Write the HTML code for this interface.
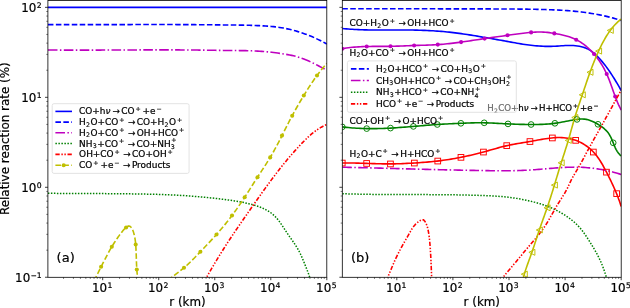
<!DOCTYPE html>
<html><head><meta charset="utf-8"><title>Relative reaction rate</title>
<style>html,body{margin:0;padding:0;background:#fff;width:630px;height:308px;overflow:hidden}</style>
</head><body>
<svg width="630" height="308" viewBox="0 0 630 308" style="display:block;position:absolute;left:0;top:0" font-family="'DejaVu Sans','Liberation Sans',sans-serif">
<rect width="630" height="308" fill="#fff"/>
<defs><clipPath id="cl"><rect x="47.9" y="0.4" width="278.90000000000003" height="276.90000000000003"/></clipPath><clipPath id="cr"><rect x="342.3" y="0.4" width="278.90000000000003" height="276.90000000000003"/></clipPath></defs>
<g clip-path="url(#cl)">
<path d="M47.9,7.35 L326.8,7.35" stroke="#0000ff" stroke-width="1.6" fill="none"/>
<path d="M47.90,24.60 L49.91,24.61 L51.93,24.62 L53.94,24.63 L55.96,24.63 L57.97,24.64 L59.99,24.64 L62.00,24.65 L64.02,24.65 L66.03,24.66 L68.05,24.66 L70.06,24.66 L72.08,24.66 L74.09,24.66 L76.10,24.66 L78.12,24.66 L80.13,24.66 L82.15,24.66 L84.16,24.66 L86.18,24.66 L88.19,24.66 L90.21,24.66 L92.22,24.65 L94.24,24.65 L96.25,24.65 L98.27,24.65 L100.28,24.64 L102.30,24.64 L104.31,24.63 L106.33,24.63 L108.34,24.63 L110.35,24.62 L112.37,24.62 L114.38,24.61 L116.40,24.61 L118.41,24.60 L120.43,24.60 L122.44,24.59 L124.46,24.59 L126.47,24.59 L128.49,24.58 L130.50,24.58 L132.52,24.57 L134.53,24.57 L136.55,24.57 L138.56,24.56 L140.58,24.56 L142.59,24.56 L144.60,24.56 L146.62,24.55 L148.63,24.55 L150.65,24.55 L152.66,24.55 L154.68,24.55 L156.69,24.55 L158.71,24.55 L160.72,24.55 L162.74,24.55 L164.75,24.55 L166.77,24.56 L168.78,24.56 L170.80,24.56 L172.81,24.57 L174.82,24.57 L176.84,24.58 L178.85,24.58 L180.87,24.59 L182.88,24.60 L184.90,24.61 L186.91,24.62 L188.93,24.63 L190.94,24.64 L192.96,24.65 L194.97,24.66 L196.99,24.68 L199.00,24.69 L201.01,24.71 L203.03,24.72 L205.04,24.74 L207.06,24.76 L209.07,24.78 L211.09,24.80 L213.10,24.82 L215.12,24.84 L217.13,24.86 L219.15,24.88 L221.16,24.90 L223.17,24.93 L225.19,24.95 L227.20,24.97 L229.22,24.99 L231.23,25.01 L233.25,25.03 L235.26,25.06 L237.28,25.08 L239.29,25.11 L241.31,25.14 L243.32,25.17 L245.33,25.21 L247.35,25.25 L249.36,25.30 L251.38,25.36 L253.39,25.42 L255.40,25.50 L257.42,25.58 L259.43,25.67 L261.44,25.77 L263.46,25.88 L265.47,26.00 L267.48,26.14 L269.49,26.30 L271.50,26.47 L273.50,26.67 L275.51,26.89 L277.51,27.14 L279.50,27.42 L281.49,27.73 L283.48,28.07 L285.46,28.45 L287.43,28.86 L289.40,29.30 L291.36,29.78 L293.31,30.28 L295.26,30.82 L297.19,31.38 L299.12,31.97 L301.04,32.59 L302.95,33.23 L304.85,33.90 L306.74,34.60 L308.62,35.33 L310.49,36.08 L312.35,36.86 L314.20,37.67 L316.04,38.50 L317.86,39.35 L319.67,40.23 L321.48,41.14 L323.26,42.07 L325.04,43.02 L326.80,44.00" fill="none" stroke="#0000ff" stroke-width="1.6" stroke-dasharray="5.55,2.40" stroke-linejoin="round" />
<path d="M47.90,50.00 L49.92,50.02 L51.93,50.03 L53.95,50.05 L55.96,50.06 L57.98,50.07 L59.99,50.08 L62.01,50.09 L64.03,50.10 L66.04,50.11 L68.06,50.11 L70.08,50.12 L72.09,50.12 L74.11,50.12 L76.12,50.12 L78.14,50.12 L80.16,50.12 L82.17,50.12 L84.19,50.12 L86.21,50.12 L88.22,50.11 L90.24,50.11 L92.26,50.10 L94.27,50.10 L96.29,50.09 L98.31,50.09 L100.32,50.08 L102.34,50.07 L104.36,50.07 L106.37,50.06 L108.39,50.05 L110.41,50.04 L112.42,50.03 L114.44,50.02 L116.46,50.02 L118.47,50.01 L120.49,50.00 L122.51,49.99 L124.52,49.98 L126.54,49.97 L128.56,49.96 L130.57,49.95 L132.59,49.95 L134.61,49.94 L136.62,49.93 L138.64,49.92 L140.66,49.92 L142.67,49.91 L144.69,49.90 L146.71,49.90 L148.72,49.89 L150.74,49.89 L152.76,49.89 L154.77,49.88 L156.79,49.88 L158.81,49.88 L160.82,49.88 L162.84,49.88 L164.86,49.88 L166.87,49.89 L168.89,49.89 L170.91,49.89 L172.92,49.90 L174.94,49.91 L176.95,49.91 L178.97,49.92 L180.99,49.93 L183.00,49.94 L185.02,49.96 L187.03,49.97 L189.05,49.99 L191.07,50.00 L193.08,50.02 L195.10,50.04 L197.11,50.07 L199.13,50.09 L201.14,50.11 L203.16,50.14 L205.18,50.17 L207.19,50.20 L209.21,50.23 L211.22,50.26 L213.24,50.29 L215.25,50.32 L217.27,50.35 L219.29,50.38 L221.30,50.40 L223.32,50.43 L225.34,50.45 L227.35,50.47 L229.37,50.49 L231.39,50.51 L233.41,50.53 L235.43,50.54 L237.45,50.56 L239.46,50.58 L241.48,50.60 L243.50,50.63 L245.52,50.66 L247.53,50.70 L249.55,50.75 L251.57,50.82 L253.58,50.89 L255.60,50.98 L257.61,51.08 L259.62,51.20 L261.63,51.33 L263.64,51.49 L265.64,51.66 L267.65,51.85 L269.65,52.07 L271.65,52.30 L273.66,52.54 L275.66,52.80 L277.66,53.07 L279.66,53.35 L281.66,53.64 L283.66,53.95 L285.65,54.27 L287.64,54.61 L289.63,54.98 L291.61,55.39 L293.57,55.83 L295.52,56.32 L297.46,56.86 L299.39,57.45 L301.29,58.09 L303.19,58.78 L305.07,59.52 L306.93,60.29 L308.78,61.10 L310.63,61.94 L312.46,62.80 L314.28,63.69 L316.09,64.60 L317.89,65.52 L319.68,66.45 L321.47,67.39 L323.25,68.33 L325.03,69.27 L326.80,70.20" fill="none" stroke="#bf00bf" stroke-width="1.6" stroke-dasharray="9.60,2.40,1.50,2.40" stroke-linejoin="round" />
<path d="M47.90,193.30 L49.91,193.32 L51.93,193.34 L53.94,193.36 L55.95,193.37 L57.97,193.39 L59.98,193.40 L61.99,193.42 L64.01,193.43 L66.02,193.44 L68.04,193.45 L70.05,193.47 L72.06,193.48 L74.08,193.49 L76.09,193.50 L78.10,193.50 L80.12,193.51 L82.13,193.52 L84.15,193.53 L86.16,193.54 L88.17,193.55 L90.19,193.55 L92.20,193.56 L94.22,193.57 L96.23,193.58 L98.25,193.59 L100.26,193.60 L102.27,193.61 L104.29,193.62 L106.30,193.63 L108.32,193.65 L110.33,193.66 L112.34,193.68 L114.36,193.69 L116.37,193.71 L118.39,193.72 L120.40,193.74 L122.41,193.76 L124.43,193.78 L126.44,193.81 L128.45,193.83 L130.47,193.86 L132.48,193.88 L134.49,193.91 L136.51,193.94 L138.52,193.97 L140.53,194.01 L142.55,194.05 L144.56,194.08 L146.57,194.13 L148.59,194.17 L150.60,194.22 L152.61,194.27 L154.62,194.32 L156.64,194.37 L158.65,194.43 L160.66,194.50 L162.67,194.57 L164.69,194.64 L166.70,194.72 L168.71,194.80 L170.72,194.88 L172.74,194.97 L174.75,195.07 L176.76,195.17 L178.77,195.28 L180.78,195.40 L182.79,195.52 L184.81,195.64 L186.82,195.78 L188.83,195.92 L190.84,196.06 L192.85,196.22 L194.86,196.38 L196.87,196.54 L198.88,196.72 L200.89,196.90 L202.90,197.09 L204.91,197.28 L206.91,197.48 L208.92,197.69 L210.92,197.90 L212.92,198.12 L214.92,198.34 L216.92,198.57 L218.92,198.80 L220.91,199.04 L222.90,199.29 L224.89,199.54 L226.87,199.80 L228.86,200.06 L230.84,200.34 L232.82,200.63 L234.80,200.94 L236.79,201.26 L238.77,201.60 L240.75,201.96 L242.73,202.35 L244.71,202.76 L246.70,203.20 L248.69,203.67 L250.68,204.17 L252.67,204.71 L254.65,205.29 L256.62,205.90 L258.58,206.57 L260.50,207.29 L262.39,208.07 L264.25,208.91 L266.05,209.82 L267.81,210.80 L269.50,211.86 L271.13,213.00 L272.68,214.23 L274.15,215.54 L275.55,216.94 L276.89,218.41 L278.16,219.95 L279.39,221.55 L280.58,223.18 L281.74,224.86 L282.87,226.55 L284.00,228.27 L285.11,229.98 L286.23,231.70 L287.37,233.40 L288.52,235.08 L289.68,236.75 L290.85,238.40 L292.01,240.05 L293.16,241.71 L294.29,243.37 L295.40,245.04 L296.47,246.73 L297.51,248.44 L298.50,250.17 L299.43,251.94 L300.32,253.74 L301.18,255.56 L301.99,257.41 L302.78,259.26 L303.55,261.13 L304.31,263.01 L305.06,264.89 L305.80,266.77 L306.55,268.64 L307.28,270.52 L308.00,272.40 L308.69,274.29 L309.34,276.19 L309.95,278.11 L310.51,280.04 L311.00,282.00" fill="none" stroke="#008000" stroke-width="1.5" stroke-dasharray="1.5,1.5" stroke-linejoin="round" />
<path d="M204.00,282.00 L204.98,280.22 L205.97,278.44 L206.96,276.66 L207.96,274.89 L208.96,273.12 L209.98,271.35 L211.00,269.59 L212.02,267.83 L213.05,266.08 L214.09,264.33 L215.14,262.58 L216.19,260.84 L217.24,259.10 L218.30,257.36 L219.37,255.63 L220.44,253.90 L221.52,252.17 L222.61,250.45 L223.70,248.73 L224.79,247.01 L225.89,245.30 L227.00,243.59 L228.11,241.88 L229.22,240.18 L230.34,238.48 L231.47,236.78 L232.60,235.09 L233.74,233.40 L234.87,231.72 L236.02,230.03 L237.17,228.35 L238.32,226.67 L239.47,225.00 L240.63,223.32 L241.79,221.65 L242.95,219.98 L244.11,218.31 L245.27,216.64 L246.44,214.97 L247.60,213.30 L248.76,211.63 L249.93,209.96 L251.09,208.29 L252.26,206.62 L253.42,204.96 L254.59,203.29 L255.76,201.62 L256.93,199.96 L258.10,198.29 L259.27,196.63 L260.45,194.97 L261.63,193.31 L262.81,191.66 L264.00,190.00 L265.18,188.35 L266.38,186.70 L267.57,185.05 L268.77,183.41 L269.98,181.77 L271.19,180.13 L272.41,178.50 L273.63,176.87 L274.86,175.25 L276.09,173.63 L277.33,172.02 L278.58,170.41 L279.83,168.81 L281.09,167.21 L282.36,165.62 L283.64,164.04 L284.92,162.47 L286.22,160.90 L287.52,159.34 L288.83,157.78 L290.15,156.24 L291.48,154.70 L292.82,153.17 L294.17,151.64 L295.53,150.12 L296.90,148.62 L298.28,147.11 L299.67,145.62 L301.07,144.14 L302.49,142.66 L303.91,141.19 L305.36,139.75 L306.82,138.32 L308.31,136.92 L309.82,135.55 L311.36,134.21 L312.92,132.91 L314.52,131.66 L316.15,130.46 L317.82,129.31 L319.53,128.21 L321.28,127.18 L323.07,126.21 L324.91,125.32 L326.80,124.50" fill="none" stroke="#ff0000" stroke-width="1.6" stroke-dasharray="4.3,1.7,1.4,1.6,1.4,1.7" stroke-linejoin="round" />
<path d="M94.00,281.00 L94.79,279.46 L95.58,277.92 L96.36,276.38 L97.13,274.83 L97.89,273.27 L98.65,271.72 L99.42,270.16 L100.18,268.61 L100.96,267.07 L101.75,265.53 L102.54,263.98 L103.33,262.44 L104.12,260.90 L104.91,259.35 L105.71,257.82 L106.51,256.28 L107.32,254.75 L108.14,253.23 L108.97,251.71 L109.82,250.20 L110.68,248.70 L111.55,247.21 L112.44,245.73 L113.35,244.26 L114.27,242.79 L115.21,241.33 L116.16,239.88 L117.14,238.44 L118.13,237.02 L119.15,235.63 L120.19,234.25 L121.24,232.86 L122.31,231.45 L123.42,230.09 L124.60,228.82 L125.86,227.69 L127.30,226.59 L128.83,225.90 L130.34,226.55 L131.67,227.96 L132.40,229.32 L133.01,230.77 L133.55,232.35 L134.03,234.02 L134.44,235.77 L134.81,237.57 L135.11,239.38 L135.36,241.20 L135.56,242.98 L135.72,244.71 L135.84,246.42 L135.94,248.14 L136.03,249.86 L136.11,251.59 L136.17,253.32 L136.23,255.05 L136.29,256.78 L136.34,258.52 L136.40,260.25 L136.45,261.99 L136.52,263.73 L136.59,265.46 L136.67,267.19 L136.76,268.92 L136.88,270.65 L137.04,272.37 L137.22,274.09 L137.38,275.82 L137.52,277.54 L137.62,279.27 L137.70,281.00" fill="none" stroke="#bfbf00" stroke-width="1.6" stroke-dasharray="5.55,2.40" stroke-linejoin="round" />
<path d="M168.00,280.50 L169.55,279.20 L171.12,277.92 L172.70,276.67 L174.30,275.43 L175.91,274.20 L177.52,272.96 L179.12,271.73 L180.71,270.48 L182.29,269.22 L183.84,267.93 L185.38,266.61 L186.88,265.27 L188.37,263.90 L189.83,262.51 L191.28,261.10 L192.72,259.67 L194.14,258.23 L195.55,256.77 L196.95,255.31 L198.35,253.85 L199.75,252.38 L201.15,250.91 L202.55,249.45 L203.95,247.99 L205.34,246.52 L206.74,245.06 L208.13,243.59 L209.51,242.12 L210.90,240.64 L212.27,239.16 L213.64,237.67 L215.00,236.17 L216.35,234.67 L217.69,233.16 L219.02,231.63 L220.34,230.10 L221.65,228.56 L222.94,227.00 L224.23,225.44 L225.51,223.87 L226.77,222.29 L228.02,220.70 L229.27,219.11 L230.50,217.50 L231.71,215.88 L232.92,214.26 L234.11,212.63 L235.30,210.99 L236.47,209.34 L237.63,207.68 L238.79,206.02 L239.93,204.35 L241.07,202.68 L242.19,201.00 L243.31,199.31 L244.42,197.62 L245.53,195.93 L246.62,194.23 L247.72,192.53 L248.81,190.83 L249.89,189.12 L250.98,187.41 L252.06,185.70 L253.14,184.00 L254.23,182.29 L255.32,180.59 L256.41,178.88 L257.51,177.19 L258.61,175.49 L259.72,173.80 L260.83,172.10 L261.94,170.41 L263.05,168.72 L264.15,167.03 L265.25,165.33 L266.34,163.62 L267.43,161.92 L268.49,160.20 L269.55,158.48 L270.59,156.74 L271.62,155.00 L272.62,153.25 L273.62,151.49 L274.60,149.72 L275.57,147.94 L276.53,146.16 L277.48,144.38 L278.42,142.58 L279.35,140.79 L280.27,138.99 L281.19,137.19 L282.11,135.38 L283.02,133.58 L283.94,131.77 L284.85,129.96 L285.76,128.16 L286.67,126.35 L287.59,124.55 L288.51,122.75 L289.44,120.95 L290.37,119.16 L291.31,117.37 L292.26,115.58 L293.22,113.81 L294.19,112.03 L295.17,110.26 L296.16,108.50 L297.16,106.74 L298.17,104.99 L299.18,103.24 L300.21,101.49 L301.24,99.75 L302.28,98.02 L303.32,96.28 L304.38,94.55 L305.44,92.83 L306.51,91.11 L307.58,89.40 L308.67,87.69 L309.77,85.99 L310.88,84.30 L312.00,82.62 L313.14,80.94 L314.29,79.28 L315.46,77.63 L316.64,75.99 L317.84,74.36 L319.06,72.75 L320.30,71.15 L321.55,69.57 L322.83,68.00 L324.13,66.45 L325.45,64.92 L326.80,63.40" fill="none" stroke="#bfbf00" stroke-width="1.6" stroke-dasharray="5.55,2.40" stroke-linejoin="round" />
<circle cx="101.1" cy="266.8" r="2.05" fill="#bfbf00"/><circle cx="111.8" cy="246.8" r="2.05" fill="#bfbf00"/><circle cx="126.1" cy="227.5" r="2.05" fill="#bfbf00"/><circle cx="135.7" cy="244.5" r="2.05" fill="#bfbf00"/><circle cx="136.8" cy="269.5" r="2.05" fill="#bfbf00"/><circle cx="184.0" cy="267.8" r="2.05" fill="#bfbf00"/><circle cx="200.4" cy="251.7" r="2.05" fill="#bfbf00"/><circle cx="216.5" cy="234.5" r="2.05" fill="#bfbf00"/><circle cx="232.0" cy="215.5" r="2.05" fill="#bfbf00"/><circle cx="244.7" cy="197.2" r="2.05" fill="#bfbf00"/><circle cx="257.5" cy="177.2" r="2.05" fill="#bfbf00"/><circle cx="270.2" cy="157.4" r="2.05" fill="#bfbf00"/><circle cx="282.0" cy="135.6" r="2.05" fill="#bfbf00"/><circle cx="292.2" cy="115.7" r="2.05" fill="#bfbf00"/><circle cx="303.8" cy="95.5" r="2.05" fill="#bfbf00"/><circle cx="317.0" cy="75.5" r="2.05" fill="#bfbf00"/>
</g>
<g clip-path="url(#cr)">
<path d="M342.30,8.80 L344.33,8.80 L346.36,8.79 L348.38,8.79 L350.41,8.79 L352.44,8.79 L354.47,8.78 L356.50,8.78 L358.53,8.78 L360.56,8.78 L362.58,8.78 L364.61,8.78 L366.64,8.78 L368.67,8.78 L370.70,8.77 L372.73,8.77 L374.75,8.77 L376.78,8.77 L378.81,8.77 L380.84,8.77 L382.87,8.77 L384.90,8.77 L386.92,8.77 L388.95,8.77 L390.98,8.78 L393.01,8.78 L395.04,8.78 L397.07,8.78 L399.09,8.78 L401.12,8.78 L403.15,8.78 L405.18,8.78 L407.21,8.79 L409.24,8.79 L411.27,8.79 L413.29,8.79 L415.32,8.79 L417.35,8.80 L419.38,8.80 L421.41,8.80 L423.44,8.80 L425.46,8.81 L427.49,8.81 L429.52,8.81 L431.55,8.82 L433.58,8.82 L435.61,8.82 L437.63,8.82 L439.66,8.83 L441.69,8.83 L443.72,8.83 L445.75,8.84 L447.78,8.84 L449.80,8.84 L451.83,8.85 L453.86,8.85 L455.89,8.85 L457.92,8.86 L459.95,8.86 L461.98,8.87 L464.00,8.87 L466.03,8.87 L468.06,8.88 L470.09,8.88 L472.12,8.88 L474.15,8.89 L476.17,8.89 L478.20,8.90 L480.23,8.90 L482.26,8.90 L484.29,8.91 L486.32,8.91 L488.34,8.92 L490.37,8.92 L492.40,8.93 L494.43,8.93 L496.46,8.94 L498.49,8.95 L500.51,8.96 L502.54,8.96 L504.57,8.97 L506.60,8.99 L508.63,9.00 L510.66,9.01 L512.68,9.03 L514.71,9.04 L516.74,9.06 L518.77,9.08 L520.80,9.10 L522.83,9.12 L524.85,9.15 L526.88,9.17 L528.91,9.20 L530.94,9.23 L532.97,9.27 L535.00,9.30 L537.02,9.34 L539.05,9.39 L541.08,9.44 L543.11,9.49 L545.14,9.55 L547.16,9.61 L549.19,9.68 L551.22,9.76 L553.25,9.84 L555.27,9.93 L557.30,10.03 L559.32,10.14 L561.35,10.25 L563.37,10.38 L565.40,10.51 L567.42,10.66 L569.45,10.81 L571.47,10.98 L573.49,11.16 L575.51,11.35 L577.53,11.55 L579.55,11.77 L581.56,12.01 L583.57,12.25 L585.59,12.52 L587.59,12.80 L589.60,13.10 L591.60,13.42 L593.61,13.75 L595.60,14.11 L597.60,14.48 L599.59,14.87 L601.58,15.28 L603.56,15.71 L605.54,16.15 L607.51,16.62 L609.48,17.10 L611.45,17.60 L613.41,18.13 L615.37,18.67 L617.32,19.22 L619.26,19.80 L621.20,20.40" fill="none" stroke="#0000ff" stroke-width="1.6" stroke-dasharray="5.55,2.40" stroke-linejoin="round" />
<path d="M342.30,28.50 L344.31,28.70 L346.33,28.88 L348.34,29.04 L350.35,29.19 L352.37,29.32 L354.38,29.44 L356.40,29.54 L358.42,29.64 L360.43,29.72 L362.45,29.79 L364.47,29.84 L366.48,29.89 L368.50,29.93 L370.52,29.97 L372.54,29.99 L374.56,30.01 L376.57,30.02 L378.59,30.03 L380.61,30.03 L382.63,30.03 L384.65,30.02 L386.67,30.02 L388.69,30.01 L390.71,30.00 L392.73,29.99 L394.75,29.98 L396.77,29.98 L398.79,29.97 L400.81,29.97 L402.83,29.97 L404.85,29.98 L406.88,29.99 L408.90,30.01 L410.92,30.03 L412.94,30.06 L414.96,30.10 L416.98,30.15 L419.00,30.20 L421.02,30.26 L423.03,30.33 L425.05,30.41 L427.07,30.50 L429.09,30.60 L431.10,30.70 L433.12,30.82 L435.14,30.95 L437.15,31.09 L439.16,31.24 L441.18,31.40 L443.19,31.57 L445.20,31.76 L447.21,31.95 L449.22,32.16 L451.23,32.38 L453.23,32.61 L455.24,32.86 L457.24,33.11 L459.24,33.37 L461.24,33.65 L463.24,33.93 L465.24,34.22 L467.24,34.53 L469.24,34.84 L471.23,35.16 L473.22,35.48 L475.21,35.82 L477.20,36.15 L479.19,36.49 L481.18,36.84 L483.17,37.18 L485.16,37.53 L487.15,37.87 L489.14,38.22 L491.13,38.56 L493.12,38.91 L495.11,39.25 L497.10,39.60 L499.09,39.95 L501.08,40.30 L503.07,40.66 L505.05,41.02 L507.04,41.38 L509.02,41.75 L511.01,42.11 L513.00,42.47 L514.98,42.83 L516.97,43.18 L518.96,43.52 L520.95,43.85 L522.95,44.17 L524.94,44.48 L526.95,44.76 L528.95,45.03 L530.96,45.28 L532.97,45.51 L534.98,45.71 L537.00,45.89 L539.02,46.05 L541.04,46.17 L543.06,46.27 L545.08,46.34 L547.10,46.38 L549.12,46.38 L551.13,46.36 L553.15,46.29 L555.16,46.20 L557.17,46.08 L559.18,45.94 L561.19,45.81 L563.20,45.68 L565.22,45.57 L567.24,45.49 L569.26,45.45 L571.29,45.46 L573.33,45.54 L575.38,45.69 L577.41,45.92 L579.43,46.24 L581.42,46.67 L583.38,47.21 L585.28,47.87 L587.12,48.66 L588.90,49.60 L590.61,50.66 L592.25,51.83 L593.84,53.10 L595.37,54.45 L596.85,55.86 L598.29,57.32 L599.68,58.82 L601.04,60.34 L602.36,61.88 L603.65,63.44 L604.90,65.02 L606.13,66.62 L607.32,68.24 L608.49,69.87 L609.64,71.53 L610.76,73.19 L611.86,74.87 L612.95,76.57 L614.02,78.27 L615.07,79.99 L616.11,81.72 L617.14,83.46 L618.17,85.21 L619.18,86.96 L620.19,88.73 L621.20,90.50" fill="none" stroke="#0000ff" stroke-width="1.6" stroke-linejoin="round" />
<path d="M342.30,48.70 L344.30,48.35 L346.31,48.04 L348.32,47.76 L350.33,47.52 L352.34,47.31 L354.35,47.13 L356.36,46.97 L358.37,46.84 L360.39,46.73 L362.41,46.63 L364.42,46.56 L366.44,46.51 L368.46,46.46 L370.48,46.43 L372.50,46.41 L374.52,46.40 L376.54,46.39 L378.56,46.38 L380.58,46.38 L382.60,46.37 L384.62,46.36 L386.64,46.35 L388.66,46.33 L390.68,46.30 L392.70,46.25 L394.71,46.20 L396.73,46.14 L398.75,46.08 L400.77,46.00 L402.79,45.93 L404.81,45.85 L406.83,45.77 L408.84,45.69 L410.86,45.61 L412.88,45.54 L414.90,45.47 L416.92,45.41 L418.94,45.35 L420.96,45.30 L422.98,45.24 L425.00,45.18 L427.02,45.11 L429.04,45.04 L431.05,44.96 L433.07,44.87 L435.09,44.76 L437.10,44.65 L439.12,44.51 L441.13,44.36 L443.14,44.19 L445.16,44.00 L447.17,43.80 L449.17,43.59 L451.18,43.36 L453.19,43.13 L455.20,42.88 L457.20,42.62 L459.20,42.36 L461.21,42.09 L463.21,41.81 L465.21,41.52 L467.20,41.23 L469.20,40.93 L471.20,40.63 L473.20,40.33 L475.19,40.03 L477.19,39.72 L479.19,39.42 L481.18,39.11 L483.18,38.81 L485.18,38.51 L487.18,38.22 L489.18,37.93 L491.17,37.63 L493.17,37.35 L495.17,37.06 L497.17,36.77 L499.17,36.49 L501.17,36.20 L503.17,35.92 L505.17,35.63 L507.17,35.35 L509.17,35.06 L511.17,34.77 L513.17,34.49 L515.17,34.21 L517.17,33.94 L519.17,33.67 L521.17,33.42 L523.18,33.18 L525.19,32.95 L527.20,32.75 L529.21,32.56 L531.23,32.39 L533.25,32.25 L535.27,32.14 L537.29,32.06 L539.31,32.02 L541.33,32.04 L543.35,32.10 L545.36,32.23 L547.37,32.41 L549.37,32.65 L551.37,32.93 L553.37,33.25 L555.38,33.58 L557.38,33.94 L559.38,34.33 L561.38,34.75 L563.36,35.20 L565.33,35.70 L567.28,36.25 L569.22,36.86 L571.12,37.52 L573.00,38.25 L574.85,39.05 L576.66,39.93 L578.43,40.89 L580.17,41.92 L581.86,43.03 L583.52,44.20 L585.13,45.43 L586.70,46.73 L588.24,48.07 L589.73,49.47 L591.17,50.92 L592.58,52.40 L593.94,53.93 L595.25,55.48 L596.52,57.07 L597.75,58.69 L598.93,60.34 L600.08,62.01 L601.17,63.72 L602.23,65.44 L603.24,67.20 L604.22,68.97 L605.15,70.76 L606.04,72.58 L606.88,74.41 L607.69,76.26 L608.47,78.12 L609.22,80.00 L609.94,81.88 L610.64,83.78 L611.33,85.68 L612.00,87.58 L612.68,89.49 L613.35,91.40 L614.03,93.30 L614.72,95.20 L615.42,97.09 L616.15,98.98 L616.90,100.85 L617.68,102.72 L618.49,104.57 L619.35,106.40 L620.25,108.21 L621.20,110.00" fill="none" stroke="#bf00bf" stroke-width="1.6" stroke-linejoin="round" />
<circle cx="342.3" cy="48.7" r="2.05" fill="#bf00bf"/><circle cx="366.7" cy="46.5" r="2.05" fill="#bf00bf"/><circle cx="390.5" cy="46.3" r="2.05" fill="#bf00bf"/><circle cx="414.1" cy="45.5" r="2.05" fill="#bf00bf"/><circle cx="437.8" cy="44.6" r="2.05" fill="#bf00bf"/><circle cx="461.1" cy="42.1" r="2.05" fill="#bf00bf"/><circle cx="484.6" cy="38.6" r="2.05" fill="#bf00bf"/><circle cx="507.5" cy="35.3" r="2.05" fill="#bf00bf"/><circle cx="531.1" cy="32.4" r="2.05" fill="#bf00bf"/><circle cx="554.3" cy="33.4" r="2.05" fill="#bf00bf"/><circle cx="576.2" cy="39.7" r="2.05" fill="#bf00bf"/><circle cx="594.0" cy="54.0" r="2.05" fill="#bf00bf"/><circle cx="606.7" cy="74.0" r="2.05" fill="#bf00bf"/><circle cx="615.2" cy="96.5" r="2.05" fill="#bf00bf"/>
<path d="M342.30,126.90 L344.31,127.15 L346.32,127.37 L348.33,127.57 L350.35,127.76 L352.36,127.93 L354.38,128.07 L356.40,128.20 L358.42,128.32 L360.44,128.41 L362.45,128.49 L364.47,128.55 L366.50,128.60 L368.52,128.63 L370.54,128.64 L372.56,128.64 L374.58,128.63 L376.60,128.61 L378.62,128.57 L380.64,128.52 L382.67,128.45 L384.69,128.38 L386.71,128.29 L388.73,128.19 L390.74,128.09 L392.76,127.97 L394.78,127.84 L396.80,127.71 L398.81,127.57 L400.83,127.42 L402.84,127.27 L404.86,127.11 L406.87,126.95 L408.89,126.78 L410.90,126.61 L412.92,126.44 L414.93,126.27 L416.94,126.10 L418.96,125.93 L420.97,125.76 L422.99,125.59 L425.00,125.42 L427.02,125.26 L429.03,125.10 L431.05,124.94 L433.06,124.79 L435.08,124.65 L437.09,124.51 L439.11,124.38 L441.13,124.26 L443.15,124.14 L445.16,124.03 L447.18,123.93 L449.20,123.82 L451.22,123.73 L453.24,123.63 L455.26,123.54 L457.28,123.45 L459.30,123.37 L461.32,123.28 L463.34,123.20 L465.36,123.12 L467.38,123.04 L469.40,122.97 L471.42,122.91 L473.44,122.86 L475.46,122.82 L477.48,122.79 L479.51,122.77 L481.53,122.77 L483.55,122.79 L485.57,122.83 L487.59,122.88 L489.61,122.95 L491.63,123.03 L493.64,123.13 L495.66,123.23 L497.68,123.34 L499.70,123.45 L501.72,123.56 L503.74,123.68 L505.76,123.79 L507.78,123.89 L509.79,123.98 L511.81,124.07 L513.83,124.15 L515.85,124.22 L517.87,124.28 L519.89,124.34 L521.91,124.39 L523.93,124.42 L525.95,124.46 L527.97,124.48 L530.00,124.49 L532.02,124.50 L534.05,124.50 L536.08,124.49 L538.11,124.46 L540.13,124.42 L542.16,124.35 L544.18,124.27 L546.20,124.16 L548.21,124.01 L550.23,123.84 L552.23,123.63 L554.23,123.39 L556.23,123.11 L558.22,122.79 L560.20,122.44 L562.18,122.07 L564.17,121.69 L566.15,121.30 L568.13,120.91 L570.12,120.53 L572.11,120.17 L574.11,119.83 L576.12,119.52 L578.14,119.25 L580.16,119.06 L582.17,118.98 L584.17,119.08 L586.16,119.37 L588.11,119.82 L590.05,120.43 L591.96,121.17 L593.83,122.02 L595.68,122.97 L597.49,124.00 L599.27,125.09 L601.00,126.24 L602.66,127.45 L604.25,128.74 L605.74,130.12 L607.12,131.57 L608.38,133.12 L609.50,134.77 L610.48,136.52 L611.36,138.33 L612.16,140.20 L612.93,142.10 L613.68,144.02 L614.45,145.92 L615.27,147.80 L616.17,149.62 L617.18,151.37 L618.34,153.04 L619.67,154.58 L621.20,156.00" fill="none" stroke="#008000" stroke-width="1.6" stroke-linejoin="round" />
<path d="M342.30,163.00 L344.32,162.98 L346.34,162.97 L348.35,162.97 L350.37,162.99 L352.39,163.01 L354.41,163.05 L356.43,163.09 L358.45,163.15 L360.46,163.20 L362.48,163.26 L364.50,163.33 L366.52,163.39 L368.54,163.46 L370.55,163.53 L372.57,163.59 L374.59,163.66 L376.61,163.71 L378.63,163.77 L380.64,163.81 L382.66,163.85 L384.68,163.88 L386.70,163.90 L388.72,163.90 L390.73,163.90 L392.75,163.88 L394.77,163.85 L396.79,163.80 L398.81,163.75 L400.82,163.68 L402.84,163.60 L404.86,163.51 L406.87,163.42 L408.89,163.32 L410.91,163.21 L412.92,163.09 L414.94,162.97 L416.95,162.84 L418.97,162.70 L420.98,162.56 L423.00,162.41 L425.01,162.26 L427.02,162.09 L429.03,161.91 L431.04,161.72 L433.05,161.52 L435.06,161.31 L437.06,161.09 L439.07,160.85 L441.07,160.59 L443.07,160.32 L445.07,160.04 L447.07,159.75 L449.06,159.44 L451.05,159.11 L453.05,158.78 L455.03,158.43 L457.02,158.06 L459.00,157.69 L460.99,157.30 L462.96,156.90 L464.94,156.49 L466.91,156.07 L468.89,155.63 L470.85,155.19 L472.82,154.73 L474.78,154.25 L476.74,153.77 L478.70,153.27 L480.65,152.76 L482.60,152.24 L484.55,151.71 L486.50,151.17 L488.44,150.62 L490.39,150.06 L492.33,149.51 L494.27,148.96 L496.21,148.41 L498.16,147.87 L500.11,147.35 L502.06,146.84 L504.02,146.35 L505.98,145.89 L507.95,145.45 L509.92,145.03 L511.90,144.64 L513.88,144.26 L515.87,143.90 L517.85,143.56 L519.84,143.22 L521.84,142.88 L523.83,142.55 L525.82,142.22 L527.81,141.88 L529.81,141.53 L531.79,141.18 L533.78,140.82 L535.77,140.45 L537.76,140.08 L539.74,139.73 L541.73,139.38 L543.72,139.05 L545.72,138.74 L547.71,138.45 L549.72,138.19 L551.72,137.97 L553.73,137.78 L555.75,137.64 L557.77,137.56 L559.79,137.54 L561.81,137.59 L563.82,137.72 L565.83,137.94 L567.83,138.25 L569.82,138.63 L571.79,139.11 L573.74,139.67 L575.67,140.32 L577.56,141.06 L579.42,141.89 L581.25,142.80 L583.03,143.79 L584.77,144.86 L586.46,146.00 L588.10,147.21 L589.69,148.50 L591.21,149.84 L592.67,151.25 L594.06,152.71 L595.39,154.23 L596.65,155.80 L597.86,157.42 L599.01,159.07 L600.12,160.76 L601.18,162.49 L602.22,164.23 L603.22,166.00 L604.19,167.79 L605.14,169.59 L606.08,171.39 L607.01,173.20 L607.93,175.01 L608.85,176.82 L609.75,178.63 L610.64,180.45 L611.51,182.27 L612.38,184.09 L613.22,185.92 L614.05,187.75 L614.87,189.59 L615.66,191.44 L616.44,193.30 L617.19,195.17 L617.92,197.04 L618.63,198.93 L619.31,200.83 L619.97,202.74 L620.60,204.66 L621.20,206.60" fill="none" stroke="#ff0000" stroke-width="1.6" stroke-linejoin="round" />
<path d="M342.30,167.20 L344.33,167.25 L346.36,167.29 L348.38,167.34 L350.41,167.39 L352.44,167.44 L354.46,167.49 L356.49,167.54 L358.52,167.59 L360.55,167.64 L362.57,167.69 L364.60,167.74 L366.63,167.79 L368.65,167.85 L370.68,167.90 L372.71,167.95 L374.73,168.00 L376.76,168.06 L378.79,168.11 L380.81,168.16 L382.84,168.22 L384.86,168.27 L386.89,168.32 L388.92,168.38 L390.94,168.43 L392.97,168.49 L395.00,168.54 L397.02,168.59 L399.05,168.65 L401.08,168.70 L403.10,168.76 L405.13,168.81 L407.15,168.86 L409.18,168.92 L411.21,168.97 L413.23,169.02 L415.26,169.08 L417.28,169.13 L419.31,169.18 L421.34,169.23 L423.36,169.29 L425.39,169.34 L427.42,169.39 L429.44,169.44 L431.47,169.49 L433.49,169.54 L435.52,169.59 L437.55,169.64 L439.57,169.69 L441.60,169.74 L443.63,169.78 L445.65,169.83 L447.68,169.88 L449.71,169.92 L451.73,169.97 L453.76,170.01 L455.79,170.06 L457.81,170.10 L459.84,170.14 L461.87,170.18 L463.89,170.22 L465.92,170.26 L467.95,170.30 L469.98,170.34 L472.00,170.38 L474.03,170.42 L476.06,170.45 L478.08,170.49 L480.11,170.52 L482.14,170.56 L484.17,170.59 L486.20,170.62 L488.22,170.65 L490.25,170.68 L492.28,170.70 L494.31,170.72 L496.34,170.74 L498.36,170.76 L500.39,170.77 L502.42,170.77 L504.45,170.77 L506.47,170.76 L508.50,170.75 L510.53,170.73 L512.56,170.70 L514.58,170.66 L516.61,170.61 L518.64,170.55 L520.66,170.49 L522.69,170.41 L524.71,170.32 L526.74,170.22 L528.76,170.10 L530.79,169.98 L532.81,169.84 L534.84,169.69 L536.86,169.53 L538.88,169.37 L540.91,169.20 L542.93,169.03 L544.95,168.86 L546.98,168.69 L549.00,168.52 L551.02,168.35 L553.05,168.19 L555.07,168.03 L557.09,167.88 L559.11,167.74 L561.14,167.61 L563.16,167.50 L565.18,167.40 L567.21,167.32 L569.23,167.25 L571.26,167.20 L573.28,167.18 L575.31,167.17 L577.33,167.20 L579.36,167.24 L581.39,167.32 L583.41,167.41 L585.44,167.54 L587.46,167.69 L589.48,167.87 L591.50,168.08 L593.52,168.31 L595.53,168.57 L597.54,168.86 L599.55,169.18 L601.55,169.52 L603.55,169.89 L605.54,170.29 L607.52,170.72 L609.50,171.17 L611.47,171.65 L613.43,172.17 L615.39,172.71 L617.33,173.27 L619.27,173.87 L621.20,174.50" fill="none" stroke="#bf00bf" stroke-width="1.6" stroke-dasharray="9.60,2.40,1.50,2.40" stroke-linejoin="round" />
<path d="M342.30,193.70 L344.33,193.77 L346.35,193.83 L348.38,193.89 L350.40,193.95 L352.43,194.01 L354.45,194.06 L356.48,194.10 L358.50,194.15 L360.53,194.19 L362.55,194.23 L364.58,194.26 L366.60,194.30 L368.63,194.33 L370.65,194.36 L372.68,194.38 L374.71,194.41 L376.73,194.43 L378.76,194.45 L380.78,194.46 L382.81,194.48 L384.83,194.49 L386.86,194.51 L388.88,194.52 L390.91,194.53 L392.93,194.54 L394.96,194.55 L396.98,194.55 L399.01,194.56 L401.03,194.56 L403.06,194.57 L405.08,194.57 L407.11,194.58 L409.13,194.58 L411.16,194.58 L413.18,194.59 L415.21,194.59 L417.23,194.59 L419.26,194.60 L421.28,194.60 L423.31,194.61 L425.33,194.61 L427.36,194.62 L429.39,194.63 L431.41,194.64 L433.44,194.64 L435.46,194.65 L437.49,194.67 L439.51,194.68 L441.54,194.69 L443.56,194.71 L445.59,194.73 L447.61,194.75 L449.64,194.77 L451.66,194.80 L453.69,194.82 L455.71,194.85 L457.74,194.88 L459.76,194.92 L461.79,194.95 L463.81,194.99 L465.84,195.03 L467.86,195.08 L469.89,195.13 L471.91,195.18 L473.94,195.23 L475.96,195.29 L477.99,195.36 L480.01,195.42 L482.04,195.49 L484.06,195.56 L486.09,195.64 L488.11,195.73 L490.14,195.81 L492.16,195.91 L494.19,196.02 L496.21,196.14 L498.23,196.28 L500.25,196.43 L502.27,196.60 L504.28,196.79 L506.29,197.00 L508.31,197.23 L510.31,197.48 L512.32,197.76 L514.32,198.05 L516.32,198.37 L518.32,198.70 L520.32,199.06 L522.31,199.43 L524.30,199.83 L526.29,200.24 L528.27,200.68 L530.25,201.14 L532.23,201.61 L534.20,202.11 L536.16,202.63 L538.12,203.18 L540.07,203.76 L542.01,204.37 L543.93,205.01 L545.84,205.68 L547.74,206.39 L549.62,207.14 L551.48,207.93 L553.33,208.76 L555.15,209.63 L556.96,210.55 L558.75,211.50 L560.51,212.49 L562.26,213.52 L563.99,214.59 L565.70,215.69 L567.38,216.83 L569.05,218.01 L570.68,219.22 L572.28,220.47 L573.84,221.77 L575.35,223.12 L576.81,224.51 L578.22,225.95 L579.58,227.45 L580.89,228.99 L582.15,230.57 L583.37,232.19 L584.56,233.83 L585.72,235.50 L586.85,237.20 L587.96,238.90 L589.06,240.62 L590.14,242.35 L591.22,244.07 L592.29,245.80 L593.34,247.54 L594.37,249.28 L595.38,251.04 L596.37,252.80 L597.33,254.58 L598.26,256.38 L599.16,258.19 L600.02,260.02 L600.84,261.87 L601.63,263.73 L602.39,265.61 L603.11,267.51 L603.81,269.41 L604.47,271.33 L605.12,273.25 L605.74,275.18 L606.35,277.12 L606.93,279.06 L607.50,281.00" fill="none" stroke="#008000" stroke-width="1.5" stroke-dasharray="1.5,1.5" stroke-linejoin="round" />
<path d="M386.00,281.00 L386.86,279.14 L387.72,277.27 L388.54,275.39 L389.35,273.50 L390.15,271.60 L390.93,269.70 L391.72,267.80 L392.51,265.90 L393.31,264.00 L394.12,262.12 L394.96,260.25 L395.82,258.39 L396.70,256.54 L397.61,254.70 L398.53,252.86 L399.47,251.03 L400.43,249.21 L401.40,247.39 L402.39,245.58 L403.39,243.79 L404.41,242.00 L405.44,240.23 L406.48,238.46 L407.52,236.66 L408.55,234.82 L409.58,232.95 L410.63,231.09 L411.72,229.28 L412.86,227.54 L414.07,225.90 L415.35,224.40 L416.73,223.06 L418.42,221.72 L420.37,220.44 L422.17,219.67 L423.54,219.87 L424.82,221.19 L425.97,223.24 L426.92,225.59 L427.60,227.80 L428.03,229.71 L428.41,231.67 L428.75,233.66 L429.05,235.70 L429.31,237.76 L429.54,239.84 L429.74,241.92 L429.93,244.01 L430.09,246.10 L430.24,248.16 L430.38,250.21 L430.51,252.26 L430.64,254.31 L430.75,256.36 L430.86,258.41 L430.96,260.46 L431.05,262.51 L431.14,264.57 L431.22,266.62 L431.30,268.68 L431.38,270.73 L431.45,272.78 L431.52,274.84 L431.59,276.89 L431.65,278.95 L431.70,281.00" fill="none" stroke="#ff0000" stroke-width="1.6" stroke-dasharray="4.3,1.7,1.4,1.6,1.4,1.7" stroke-linejoin="round" />
<path d="M500.00,281.30 L501.23,279.69 L502.48,278.09 L503.74,276.50 L505.01,274.92 L506.29,273.34 L507.58,271.78 L508.88,270.22 L510.18,268.66 L511.49,267.11 L512.80,265.56 L514.11,264.01 L515.42,262.46 L516.72,260.90 L518.03,259.35 L519.32,257.79 L520.62,256.22 L521.91,254.66 L523.20,253.09 L524.49,251.52 L525.78,249.96 L527.08,248.41 L528.39,246.86 L529.72,245.32 L531.05,243.79 L532.38,242.26 L533.71,240.72 L535.03,239.18 L536.34,237.63 L537.63,236.06 L538.91,234.48 L540.16,232.88 L541.38,231.26 L542.58,229.62 L543.75,227.97 L544.88,226.28 L545.97,224.58 L547.04,222.85 L548.08,221.11 L549.10,219.36 L550.11,217.60 L551.11,215.83 L552.11,214.06 L553.10,212.29 L554.10,210.52 L555.11,208.76 L556.14,207.01 L557.17,205.26 L558.22,203.53 L559.29,201.80 L560.38,200.09 L561.48,198.38 L562.58,196.67 L563.66,194.95 L564.71,193.22 L565.70,191.45 L566.64,189.66 L567.54,187.84 L568.41,186.00 L569.27,184.16 L570.14,182.33 L571.02,180.50 L571.94,178.69 L572.91,176.91 L573.91,175.15 L574.95,173.40 L576.00,171.66 L577.05,169.92 L578.08,168.18 L579.10,166.42 L580.10,164.66 L581.08,162.88 L582.05,161.10 L583.02,159.31 L583.98,157.52 L584.93,155.73 L585.88,153.94 L586.84,152.15 L587.80,150.37 L588.77,148.58 L589.75,146.81 L590.73,145.03 L591.71,143.25 L592.70,141.48 L593.70,139.71 L594.69,137.94 L595.68,136.18 L596.68,134.41 L597.68,132.64 L598.67,130.87 L599.67,129.10 L600.66,127.33 L601.65,125.56 L602.64,123.79 L603.62,122.02 L604.61,120.24 L605.59,118.47 L606.57,116.69 L607.55,114.91 L608.53,113.14 L609.51,111.36 L610.49,109.58 L611.46,107.80 L612.44,106.02 L613.41,104.24 L614.39,102.46 L615.36,100.68 L616.34,98.90 L617.31,97.12 L618.28,95.34 L619.25,93.56 L620.23,91.78 L621.20,90.00" fill="none" stroke="#ff0000" stroke-width="1.6" stroke-dasharray="4.3,1.7,1.4,1.6,1.4,1.7" stroke-linejoin="round" />
<path d="M522.20,281.00 L522.86,279.08 L523.45,277.14 L524.01,275.19 L524.58,273.25 L525.19,271.31 L525.81,269.38 L526.46,267.46 L527.13,265.55 L527.81,263.64 L528.49,261.73 L529.19,259.82 L529.88,257.91 L530.58,256.01 L531.26,254.10 L531.94,252.18 L532.61,250.27 L533.26,248.35 L533.90,246.42 L534.54,244.50 L535.17,242.57 L535.80,240.64 L536.43,238.71 L537.05,236.79 L537.68,234.86 L538.32,232.93 L538.96,231.01 L539.61,229.09 L540.27,227.17 L540.94,225.25 L541.61,223.34 L542.28,221.43 L542.96,219.52 L543.65,217.61 L544.33,215.70 L545.01,213.79 L545.68,211.87 L546.35,209.96 L547.02,208.04 L547.67,206.13 L548.32,204.20 L548.96,202.28 L549.60,200.35 L550.22,198.42 L550.85,196.49 L551.46,194.56 L552.07,192.63 L552.68,190.69 L553.28,188.75 L553.88,186.82 L554.47,184.88 L555.06,182.94 L555.64,180.99 L556.23,179.05 L556.82,177.11 L557.40,175.17 L557.99,173.23 L558.58,171.29 L559.17,169.35 L559.76,167.41 L560.36,165.47 L560.97,163.54 L561.58,161.60 L562.20,159.67 L562.82,157.74 L563.44,155.81 L564.07,153.88 L564.69,151.95 L565.31,150.02 L565.93,148.09 L566.54,146.15 L567.14,144.22 L567.74,142.28 L568.32,140.34 L568.89,138.39 L569.45,136.44 L570.00,134.49 L570.54,132.53 L571.08,130.58 L571.62,128.62 L572.17,126.67 L572.71,124.71 L573.26,122.76 L573.82,120.81 L574.39,118.87 L574.97,116.93 L575.57,114.99 L576.18,113.05 L576.80,111.12 L577.43,109.20 L578.07,107.27 L578.71,105.35 L579.36,103.43 L580.02,101.51 L580.67,99.59 L581.33,97.67 L581.98,95.75 L582.63,93.82 L583.28,91.90 L583.92,89.98 L584.57,88.05 L585.21,86.13 L585.86,84.21 L586.51,82.29 L587.16,80.37 L587.82,78.45 L588.49,76.53 L589.17,74.62 L589.85,72.72 L590.54,70.81 L591.25,68.91 L591.97,67.02 L592.69,65.13 L593.44,63.24 L594.19,61.36 L594.96,59.48 L595.74,57.61 L596.54,55.74 L597.35,53.88 L598.18,52.02 L599.03,50.17 L599.89,48.33 L600.77,46.49 L601.68,44.66 L602.61,42.85 L603.57,41.06 L604.56,39.28 L605.58,37.52 L606.64,35.79 L607.73,34.09 L608.86,32.41 L610.03,30.76 L611.25,29.15 L612.51,27.57 L613.83,26.03 L615.19,24.54 L616.61,23.08 L618.08,21.67 L619.61,20.31 L621.20,19.00" fill="none" stroke="#bfbf00" stroke-width="1.6" stroke-linejoin="round" />
<circle cx="342.3" cy="126.9" r="2.85" fill="none" stroke="#008000" stroke-width="0.95"/><circle cx="366.7" cy="128.6" r="2.85" fill="none" stroke="#008000" stroke-width="0.95"/><circle cx="390.5" cy="128.1" r="2.85" fill="none" stroke="#008000" stroke-width="0.95"/><circle cx="413.4" cy="126.4" r="2.85" fill="none" stroke="#008000" stroke-width="0.95"/><circle cx="437.3" cy="124.5" r="2.85" fill="none" stroke="#008000" stroke-width="0.95"/><circle cx="460.9" cy="123.3" r="2.85" fill="none" stroke="#008000" stroke-width="0.95"/><circle cx="484.2" cy="122.8" r="2.85" fill="none" stroke="#008000" stroke-width="0.95"/><circle cx="508.0" cy="123.9" r="2.85" fill="none" stroke="#008000" stroke-width="0.95"/><circle cx="531.1" cy="124.5" r="2.85" fill="none" stroke="#008000" stroke-width="0.95"/><circle cx="554.9" cy="123.3" r="2.85" fill="none" stroke="#008000" stroke-width="0.95"/><circle cx="577.0" cy="119.4" r="2.85" fill="none" stroke="#008000" stroke-width="0.95"/><circle cx="598.0" cy="124.3" r="2.85" fill="none" stroke="#008000" stroke-width="0.95"/><circle cx="613.2" cy="142.8" r="2.85" fill="none" stroke="#008000" stroke-width="0.95"/>
<rect x="339.4" y="160.2" width="5.7" height="5.7" fill="none" stroke="#ff0000" stroke-width="0.95"/><rect x="363.8" y="160.6" width="5.7" height="5.7" fill="none" stroke="#ff0000" stroke-width="0.95"/><rect x="387.6" y="161.1" width="5.7" height="5.7" fill="none" stroke="#ff0000" stroke-width="0.95"/><rect x="411.5" y="160.2" width="5.7" height="5.7" fill="none" stroke="#ff0000" stroke-width="0.95"/><rect x="434.9" y="158.2" width="5.7" height="5.7" fill="none" stroke="#ff0000" stroke-width="0.95"/><rect x="458.1" y="154.5" width="5.7" height="5.7" fill="none" stroke="#ff0000" stroke-width="0.95"/><rect x="480.6" y="149.2" width="5.7" height="5.7" fill="none" stroke="#ff0000" stroke-width="0.95"/><rect x="503.9" y="142.8" width="5.7" height="5.7" fill="none" stroke="#ff0000" stroke-width="0.95"/><rect x="527.1" y="138.7" width="5.7" height="5.7" fill="none" stroke="#ff0000" stroke-width="0.95"/><rect x="549.5" y="135.1" width="5.7" height="5.7" fill="none" stroke="#ff0000" stroke-width="0.95"/><rect x="572.8" y="137.5" width="5.7" height="5.7" fill="none" stroke="#ff0000" stroke-width="0.95"/><rect x="590.5" y="149.2" width="5.7" height="5.7" fill="none" stroke="#ff0000" stroke-width="0.95"/><rect x="603.6" y="169.3" width="5.7" height="5.7" fill="none" stroke="#ff0000" stroke-width="0.95"/><rect x="613.8" y="190.8" width="5.7" height="5.7" fill="none" stroke="#ff0000" stroke-width="0.95"/>
<path d="M521.3,274.2 L527.3,271.2 L527.3,277.2 Z" fill="none" stroke="#bfbf00" stroke-width="0.95" stroke-linejoin="miter"/><path d="M528.9,252.3 L534.9,249.3 L534.9,255.3 Z" fill="none" stroke="#bfbf00" stroke-width="0.95" stroke-linejoin="miter"/><path d="M536.3,230.0 L542.3,227.0 L542.3,233.0 Z" fill="none" stroke="#bfbf00" stroke-width="0.95" stroke-linejoin="miter"/><path d="M544.1,207.8 L550.1,204.8 L550.1,210.8 Z" fill="none" stroke="#bfbf00" stroke-width="0.95" stroke-linejoin="miter"/><path d="M551.4,185.1 L557.4,182.1 L557.4,188.1 Z" fill="none" stroke="#bfbf00" stroke-width="0.95" stroke-linejoin="miter"/><path d="M558.2,162.8 L564.2,159.8 L564.2,165.8 Z" fill="none" stroke="#bfbf00" stroke-width="0.95" stroke-linejoin="miter"/><path d="M565.3,140.4 L571.3,137.4 L571.3,143.4 Z" fill="none" stroke="#bfbf00" stroke-width="0.95" stroke-linejoin="miter"/><path d="M571.8,117.5 L577.8,114.5 L577.8,120.5 Z" fill="none" stroke="#bfbf00" stroke-width="0.95" stroke-linejoin="miter"/><path d="M579.3,94.8 L585.3,91.8 L585.3,97.8 Z" fill="none" stroke="#bfbf00" stroke-width="0.95" stroke-linejoin="miter"/><path d="M587.0,72.3 L593.0,69.3 L593.0,75.3 Z" fill="none" stroke="#bfbf00" stroke-width="0.95" stroke-linejoin="miter"/><path d="M595.6,51.1 L601.6,48.1 L601.6,54.1 Z" fill="none" stroke="#bfbf00" stroke-width="0.95" stroke-linejoin="miter"/><path d="M607.3,30.4 L613.3,27.4 L613.3,33.4 Z" fill="none" stroke="#bfbf00" stroke-width="0.95" stroke-linejoin="miter"/>
</g>
<text fill="#000" stroke="#000" stroke-width="0.22" xml:space="preserve"><tspan x="349.50" y="26.30" font-size="8.95">CO+H</tspan><tspan x="377.22" y="27.82" font-size="6.26" stroke-width="0.16">2</tspan><tspan x="381.71" y="26.30" font-size="8.95">O</tspan><tspan x="389.65" y="22.72" font-size="6.26" stroke-width="0.16">+</tspan><tspan x="398.40" y="26.30" font-size="8.95">→</tspan><tspan x="407.20" y="26.30" font-size="8.95">OH+HCO</tspan><tspan x="449.40" y="22.72" font-size="6.26" stroke-width="0.16">+</tspan></text>
<text fill="#000" stroke="#000" stroke-width="0.22" xml:space="preserve"><tspan x="349.50" y="55.80" font-size="8.95">H</tspan><tspan x="356.43" y="57.32" font-size="6.26" stroke-width="0.16">2</tspan><tspan x="360.92" y="55.80" font-size="8.95">O+CO</tspan><tspan x="389.65" y="52.22" font-size="6.26" stroke-width="0.16">+</tspan><tspan x="398.40" y="55.80" font-size="8.95">→</tspan><tspan x="407.20" y="55.80" font-size="8.95">OH+HCO</tspan><tspan x="449.40" y="52.22" font-size="6.26" stroke-width="0.16">+</tspan></text>
<text fill="#000" stroke="#000" stroke-width="0.22" xml:space="preserve"><tspan x="349.50" y="123.50" font-size="8.95">CO+OH</tspan><tspan x="384.97" y="119.92" font-size="6.26" stroke-width="0.16">+</tspan><tspan x="393.72" y="123.50" font-size="8.95">→</tspan><tspan x="402.52" y="123.50" font-size="8.95">O+HCO</tspan><tspan x="437.98" y="119.92" font-size="6.26" stroke-width="0.16">+</tspan></text>
<text fill="#000" stroke="#000" stroke-width="0.22" xml:space="preserve"><tspan x="349.50" y="156.80" font-size="8.95">H</tspan><tspan x="356.43" y="158.32" font-size="6.26" stroke-width="0.16">2</tspan><tspan x="360.92" y="156.80" font-size="8.95">O+C</tspan><tspan x="382.61" y="153.22" font-size="6.26" stroke-width="0.16">+</tspan><tspan x="391.36" y="156.80" font-size="8.95">→</tspan><tspan x="400.16" y="156.80" font-size="8.95">H+HCO</tspan><tspan x="435.31" y="153.22" font-size="6.26" stroke-width="0.16">+</tspan></text>
<text fill="#000" stroke="#000" stroke-width="0.22" xml:space="preserve"><tspan x="487.20" y="111.30" font-size="8.65">H</tspan><tspan x="493.90" y="112.77" font-size="6.05" stroke-width="0.16">2</tspan><tspan x="498.26" y="111.30" font-size="8.65">CO+h</tspan><tspan x="523.84" y="111.30" font-size="8.65" font-style="italic">ν</tspan><tspan x="530.57" y="111.30" font-size="8.65">→</tspan><tspan x="539.11" y="111.30" font-size="8.65">H+HCO</tspan><tspan x="573.12" y="107.84" font-size="6.05" stroke-width="0.16">+</tspan><tspan x="580.09" y="111.30" font-size="8.65">+e</tspan><tspan x="593.56" y="107.84" font-size="6.05" stroke-width="0.16">−</tspan></text>
<rect x="52.2" y="103.7" width="136.89999999999998" height="69.7" rx="1.8" fill="#fff" fill-opacity="0.40" stroke="#e0e0e0" stroke-opacity="1" stroke-width="0.9"/>
<path d="M55.400000000000006,111.4 L72.0,111.4" stroke="#0000ff" stroke-width="1.6" fill="none"/>
<text fill="#000" stroke="#000" stroke-width="0.22" xml:space="preserve"><tspan x="79.10" y="114.45" font-size="8.95">CO+h</tspan><tspan x="105.57" y="114.45" font-size="8.95" font-style="italic">ν</tspan><tspan x="112.46" y="114.45" font-size="8.95">→</tspan><tspan x="121.26" y="114.45" font-size="8.95">CO</tspan><tspan x="135.46" y="110.87" font-size="6.26" stroke-width="0.16">+</tspan><tspan x="142.61" y="114.45" font-size="8.95">+e</tspan><tspan x="156.51" y="110.87" font-size="6.26" stroke-width="0.16">−</tspan></text>
<path d="M55.400000000000006,122.1 L72.0,122.1" stroke="#0000ff" stroke-width="1.6" stroke-dasharray="5.55,2.40" fill="none"/>
<text fill="#000" stroke="#000" stroke-width="0.22" xml:space="preserve"><tspan x="79.10" y="125.15" font-size="8.95">H</tspan><tspan x="86.03" y="126.67" font-size="6.26" stroke-width="0.16">2</tspan><tspan x="90.52" y="125.15" font-size="8.95">O+CO</tspan><tspan x="119.25" y="121.57" font-size="6.26" stroke-width="0.16">+</tspan><tspan x="128.00" y="125.15" font-size="8.95">→</tspan><tspan x="136.80" y="125.15" font-size="8.95">CO+H</tspan><tspan x="164.53" y="126.67" font-size="6.26" stroke-width="0.16">2</tspan><tspan x="169.01" y="125.15" font-size="8.95">O</tspan><tspan x="176.96" y="121.57" font-size="6.26" stroke-width="0.16">+</tspan></text>
<path d="M55.400000000000006,132.8 L72.0,132.8" stroke="#bf00bf" stroke-width="1.6" stroke-dasharray="9.60,2.40,1.50,2.40" fill="none"/>
<text fill="#000" stroke="#000" stroke-width="0.22" xml:space="preserve"><tspan x="79.10" y="135.85" font-size="8.95">H</tspan><tspan x="86.03" y="137.37" font-size="6.26" stroke-width="0.16">2</tspan><tspan x="90.52" y="135.85" font-size="8.95">O+CO</tspan><tspan x="119.25" y="132.27" font-size="6.26" stroke-width="0.16">+</tspan><tspan x="128.00" y="135.85" font-size="8.95">→</tspan><tspan x="136.80" y="135.85" font-size="8.95">OH+HCO</tspan><tspan x="179.00" y="132.27" font-size="6.26" stroke-width="0.16">+</tspan></text>
<path d="M55.400000000000006,143.5 L72.0,143.5" stroke="#008000" stroke-width="1.6" stroke-dasharray="1.5,1.5" fill="none"/>
<text fill="#000" stroke="#000" stroke-width="0.22" xml:space="preserve"><tspan x="79.10" y="146.55" font-size="8.95">NH</tspan><tspan x="92.72" y="148.07" font-size="6.26" stroke-width="0.16">3</tspan><tspan x="97.21" y="146.55" font-size="8.95">+CO</tspan><tspan x="118.90" y="142.97" font-size="6.26" stroke-width="0.16">+</tspan><tspan x="127.65" y="146.55" font-size="8.95">→</tspan><tspan x="136.45" y="146.55" font-size="8.95">CO+NH</tspan><tspan x="170.87" y="148.97" font-size="6.26" stroke-width="0.16">3</tspan><tspan x="171.27" y="142.43" font-size="6.26" stroke-width="0.16">+</tspan></text>
<path d="M55.400000000000006,154.4 L72.0,154.4" stroke="#ff0000" stroke-width="1.6" stroke-dasharray="4.3,1.7,1.4,1.6,1.4,1.7" fill="none"/>
<text fill="#000" stroke="#000" stroke-width="0.22" xml:space="preserve"><tspan x="79.10" y="157.45" font-size="8.95">OH+CO</tspan><tspan x="114.57" y="153.87" font-size="6.26" stroke-width="0.16">+</tspan><tspan x="123.32" y="157.45" font-size="8.95">→</tspan><tspan x="132.12" y="157.45" font-size="8.95">CO+OH</tspan><tspan x="167.58" y="153.87" font-size="6.26" stroke-width="0.16">+</tspan></text>
<path d="M55.400000000000006,165.2 L72.0,165.2" stroke="#bfbf00" stroke-width="1.6" stroke-dasharray="5.55,2.40" fill="none"/>
<circle cx="63.7" cy="165.2" r="2.05" fill="#bfbf00"/>
<text fill="#000" stroke="#000" stroke-width="0.22" xml:space="preserve"><tspan x="79.10" y="168.25" font-size="8.95">CO</tspan><tspan x="93.29" y="164.67" font-size="6.26" stroke-width="0.16">+</tspan><tspan x="100.44" y="168.25" font-size="8.95">+e</tspan><tspan x="114.35" y="164.67" font-size="6.26" stroke-width="0.16">−</tspan><tspan x="123.10" y="168.25" font-size="8.95">→</tspan><tspan x="131.90" y="168.25" font-size="8.95">Products</tspan></text>
<rect x="347.4" y="60.9" width="168.89999999999998" height="51.4" rx="1.8" fill="#fff" fill-opacity="0.40" stroke="#e0e0e0" stroke-opacity="1" stroke-width="0.9"/>
<path d="M350.9,68.9 L368.9,68.9" stroke="#0000ff" stroke-width="1.6" stroke-dasharray="5.55,2.40" fill="none"/>
<text fill="#000" stroke="#000" stroke-width="0.22" xml:space="preserve"><tspan x="376.10" y="71.95" font-size="8.95">H</tspan><tspan x="383.03" y="73.47" font-size="6.26" stroke-width="0.16">2</tspan><tspan x="387.52" y="71.95" font-size="8.95">O+HCO</tspan><tspan x="422.98" y="68.37" font-size="6.26" stroke-width="0.16">+</tspan><tspan x="431.73" y="71.95" font-size="8.95">→</tspan><tspan x="440.53" y="71.95" font-size="8.95">CO+H</tspan><tspan x="468.26" y="73.47" font-size="6.26" stroke-width="0.16">3</tspan><tspan x="472.74" y="71.95" font-size="8.95">O</tspan><tspan x="480.69" y="68.37" font-size="6.26" stroke-width="0.16">+</tspan></text>
<path d="M350.9,80.5 L368.9,80.5" stroke="#bf00bf" stroke-width="1.6" stroke-dasharray="9.60,2.40,1.50,2.40" fill="none"/>
<text fill="#000" stroke="#000" stroke-width="0.22" xml:space="preserve"><tspan x="376.10" y="83.55" font-size="8.95">CH</tspan><tspan x="389.28" y="85.07" font-size="6.26" stroke-width="0.16">3</tspan><tspan x="393.77" y="83.55" font-size="8.95">OH+HCO</tspan><tspan x="435.96" y="79.97" font-size="6.26" stroke-width="0.16">+</tspan><tspan x="444.71" y="83.55" font-size="8.95">→</tspan><tspan x="453.51" y="83.55" font-size="8.95">CO+CH</tspan><tspan x="487.48" y="85.07" font-size="6.26" stroke-width="0.16">3</tspan><tspan x="491.97" y="83.55" font-size="8.95">OH</tspan><tspan x="505.94" y="85.97" font-size="6.26" stroke-width="0.16">2</tspan><tspan x="506.34" y="79.43" font-size="6.26" stroke-width="0.16">+</tspan></text>
<path d="M350.9,92.2 L368.9,92.2" stroke="#008000" stroke-width="1.6" stroke-dasharray="1.5,1.5" fill="none"/>
<text fill="#000" stroke="#000" stroke-width="0.22" xml:space="preserve"><tspan x="376.10" y="95.25" font-size="8.95">NH</tspan><tspan x="389.72" y="96.77" font-size="6.26" stroke-width="0.16">3</tspan><tspan x="394.21" y="95.25" font-size="8.95">+HCO</tspan><tspan x="422.63" y="91.67" font-size="6.26" stroke-width="0.16">+</tspan><tspan x="431.38" y="95.25" font-size="8.95">→</tspan><tspan x="440.18" y="95.25" font-size="8.95">CO+NH</tspan><tspan x="474.60" y="97.67" font-size="6.26" stroke-width="0.16">4</tspan><tspan x="475.00" y="91.13" font-size="6.26" stroke-width="0.16">+</tspan></text>
<path d="M350.9,103.9 L368.9,103.9" stroke="#ff0000" stroke-width="1.6" stroke-dasharray="4.3,1.7,1.4,1.6,1.4,1.7" fill="none"/>
<text fill="#000" stroke="#000" stroke-width="0.22" xml:space="preserve"><tspan x="376.10" y="106.95" font-size="8.95">HCO</tspan><tspan x="397.02" y="103.37" font-size="6.26" stroke-width="0.16">+</tspan><tspan x="404.17" y="106.95" font-size="8.95">+e</tspan><tspan x="418.08" y="103.37" font-size="6.26" stroke-width="0.16">−</tspan><tspan x="426.83" y="106.95" font-size="8.95">→</tspan><tspan x="435.63" y="106.95" font-size="8.95">Products</tspan></text>
<path d="M63.54,277.3 v1.6" stroke="#000" stroke-width="0.55"/><path d="M73.40,277.3 v1.6" stroke="#000" stroke-width="0.55"/><path d="M80.40,277.3 v1.6" stroke="#000" stroke-width="0.55"/><path d="M85.83,277.3 v1.6" stroke="#000" stroke-width="0.55"/><path d="M90.27,277.3 v1.6" stroke="#000" stroke-width="0.55"/><path d="M94.02,277.3 v1.6" stroke="#000" stroke-width="0.55"/><path d="M97.27,277.3 v1.6" stroke="#000" stroke-width="0.55"/><path d="M100.14,277.3 v1.6" stroke="#000" stroke-width="0.55"/><path d="M102.70,277.3 v2.9" stroke="#000" stroke-width="0.75"/><path d="M119.57,277.3 v1.6" stroke="#000" stroke-width="0.55"/><path d="M129.43,277.3 v1.6" stroke="#000" stroke-width="0.55"/><path d="M136.43,277.3 v1.6" stroke="#000" stroke-width="0.55"/><path d="M141.86,277.3 v1.6" stroke="#000" stroke-width="0.55"/><path d="M146.30,277.3 v1.6" stroke="#000" stroke-width="0.55"/><path d="M150.05,277.3 v1.6" stroke="#000" stroke-width="0.55"/><path d="M153.30,277.3 v1.6" stroke="#000" stroke-width="0.55"/><path d="M156.17,277.3 v1.6" stroke="#000" stroke-width="0.55"/><path d="M158.73,277.3 v2.9" stroke="#000" stroke-width="0.75"/><path d="M175.60,277.3 v1.6" stroke="#000" stroke-width="0.55"/><path d="M185.46,277.3 v1.6" stroke="#000" stroke-width="0.55"/><path d="M192.46,277.3 v1.6" stroke="#000" stroke-width="0.55"/><path d="M197.89,277.3 v1.6" stroke="#000" stroke-width="0.55"/><path d="M202.33,277.3 v1.6" stroke="#000" stroke-width="0.55"/><path d="M206.08,277.3 v1.6" stroke="#000" stroke-width="0.55"/><path d="M209.33,277.3 v1.6" stroke="#000" stroke-width="0.55"/><path d="M212.20,277.3 v1.6" stroke="#000" stroke-width="0.55"/><path d="M214.76,277.3 v2.9" stroke="#000" stroke-width="0.75"/><path d="M231.63,277.3 v1.6" stroke="#000" stroke-width="0.55"/><path d="M241.49,277.3 v1.6" stroke="#000" stroke-width="0.55"/><path d="M248.49,277.3 v1.6" stroke="#000" stroke-width="0.55"/><path d="M253.92,277.3 v1.6" stroke="#000" stroke-width="0.55"/><path d="M258.36,277.3 v1.6" stroke="#000" stroke-width="0.55"/><path d="M262.11,277.3 v1.6" stroke="#000" stroke-width="0.55"/><path d="M265.36,277.3 v1.6" stroke="#000" stroke-width="0.55"/><path d="M268.23,277.3 v1.6" stroke="#000" stroke-width="0.55"/><path d="M270.79,277.3 v2.9" stroke="#000" stroke-width="0.75"/><path d="M287.66,277.3 v1.6" stroke="#000" stroke-width="0.55"/><path d="M297.52,277.3 v1.6" stroke="#000" stroke-width="0.55"/><path d="M304.52,277.3 v1.6" stroke="#000" stroke-width="0.55"/><path d="M309.95,277.3 v1.6" stroke="#000" stroke-width="0.55"/><path d="M314.39,277.3 v1.6" stroke="#000" stroke-width="0.55"/><path d="M318.14,277.3 v1.6" stroke="#000" stroke-width="0.55"/><path d="M321.39,277.3 v1.6" stroke="#000" stroke-width="0.55"/><path d="M324.26,277.3 v1.6" stroke="#000" stroke-width="0.55"/><path d="M326.82,277.3 v2.9" stroke="#000" stroke-width="0.75"/><path d="M47.9,277.26 h-2.9" stroke="#000" stroke-width="0.75"/><path d="M47.9,250.18 h-1.6" stroke="#000" stroke-width="0.55"/><path d="M47.9,234.33 h-1.6" stroke="#000" stroke-width="0.55"/><path d="M47.9,223.09 h-1.6" stroke="#000" stroke-width="0.55"/><path d="M47.9,214.37 h-1.6" stroke="#000" stroke-width="0.55"/><path d="M47.9,207.25 h-1.6" stroke="#000" stroke-width="0.55"/><path d="M47.9,201.23 h-1.6" stroke="#000" stroke-width="0.55"/><path d="M47.9,196.01 h-1.6" stroke="#000" stroke-width="0.55"/><path d="M47.9,191.41 h-1.6" stroke="#000" stroke-width="0.55"/><path d="M47.9,187.29 h-2.9" stroke="#000" stroke-width="0.75"/><path d="M47.9,160.21 h-1.6" stroke="#000" stroke-width="0.55"/><path d="M47.9,144.36 h-1.6" stroke="#000" stroke-width="0.55"/><path d="M47.9,133.12 h-1.6" stroke="#000" stroke-width="0.55"/><path d="M47.9,124.40 h-1.6" stroke="#000" stroke-width="0.55"/><path d="M47.9,117.28 h-1.6" stroke="#000" stroke-width="0.55"/><path d="M47.9,111.26 h-1.6" stroke="#000" stroke-width="0.55"/><path d="M47.9,106.04 h-1.6" stroke="#000" stroke-width="0.55"/><path d="M47.9,101.44 h-1.6" stroke="#000" stroke-width="0.55"/><path d="M47.9,97.32 h-2.9" stroke="#000" stroke-width="0.75"/><path d="M47.9,70.24 h-1.6" stroke="#000" stroke-width="0.55"/><path d="M47.9,54.39 h-1.6" stroke="#000" stroke-width="0.55"/><path d="M47.9,43.15 h-1.6" stroke="#000" stroke-width="0.55"/><path d="M47.9,34.43 h-1.6" stroke="#000" stroke-width="0.55"/><path d="M47.9,27.31 h-1.6" stroke="#000" stroke-width="0.55"/><path d="M47.9,21.29 h-1.6" stroke="#000" stroke-width="0.55"/><path d="M47.9,16.07 h-1.6" stroke="#000" stroke-width="0.55"/><path d="M47.9,11.47 h-1.6" stroke="#000" stroke-width="0.55"/><path d="M47.9,7.35 h-2.9" stroke="#000" stroke-width="0.75"/>
<rect x="47.9" y="0.4" width="278.90000000000003" height="276.90000000000003" fill="none" stroke="#000" stroke-width="0.8"/>
<path d="M357.59,277.3 v1.6" stroke="#000" stroke-width="0.55"/><path d="M367.47,277.3 v1.6" stroke="#000" stroke-width="0.55"/><path d="M374.48,277.3 v1.6" stroke="#000" stroke-width="0.55"/><path d="M379.91,277.3 v1.6" stroke="#000" stroke-width="0.55"/><path d="M384.35,277.3 v1.6" stroke="#000" stroke-width="0.55"/><path d="M388.11,277.3 v1.6" stroke="#000" stroke-width="0.55"/><path d="M391.36,277.3 v1.6" stroke="#000" stroke-width="0.55"/><path d="M394.23,277.3 v1.6" stroke="#000" stroke-width="0.55"/><path d="M396.80,277.3 v2.9" stroke="#000" stroke-width="0.75"/><path d="M413.69,277.3 v1.6" stroke="#000" stroke-width="0.55"/><path d="M423.57,277.3 v1.6" stroke="#000" stroke-width="0.55"/><path d="M430.58,277.3 v1.6" stroke="#000" stroke-width="0.55"/><path d="M436.01,277.3 v1.6" stroke="#000" stroke-width="0.55"/><path d="M440.45,277.3 v1.6" stroke="#000" stroke-width="0.55"/><path d="M444.21,277.3 v1.6" stroke="#000" stroke-width="0.55"/><path d="M447.46,277.3 v1.6" stroke="#000" stroke-width="0.55"/><path d="M450.33,277.3 v1.6" stroke="#000" stroke-width="0.55"/><path d="M452.90,277.3 v2.9" stroke="#000" stroke-width="0.75"/><path d="M469.79,277.3 v1.6" stroke="#000" stroke-width="0.55"/><path d="M479.67,277.3 v1.6" stroke="#000" stroke-width="0.55"/><path d="M486.68,277.3 v1.6" stroke="#000" stroke-width="0.55"/><path d="M492.11,277.3 v1.6" stroke="#000" stroke-width="0.55"/><path d="M496.55,277.3 v1.6" stroke="#000" stroke-width="0.55"/><path d="M500.31,277.3 v1.6" stroke="#000" stroke-width="0.55"/><path d="M503.56,277.3 v1.6" stroke="#000" stroke-width="0.55"/><path d="M506.43,277.3 v1.6" stroke="#000" stroke-width="0.55"/><path d="M509.00,277.3 v2.9" stroke="#000" stroke-width="0.75"/><path d="M525.89,277.3 v1.6" stroke="#000" stroke-width="0.55"/><path d="M535.77,277.3 v1.6" stroke="#000" stroke-width="0.55"/><path d="M542.78,277.3 v1.6" stroke="#000" stroke-width="0.55"/><path d="M548.21,277.3 v1.6" stroke="#000" stroke-width="0.55"/><path d="M552.65,277.3 v1.6" stroke="#000" stroke-width="0.55"/><path d="M556.41,277.3 v1.6" stroke="#000" stroke-width="0.55"/><path d="M559.66,277.3 v1.6" stroke="#000" stroke-width="0.55"/><path d="M562.53,277.3 v1.6" stroke="#000" stroke-width="0.55"/><path d="M565.10,277.3 v2.9" stroke="#000" stroke-width="0.75"/><path d="M581.99,277.3 v1.6" stroke="#000" stroke-width="0.55"/><path d="M591.87,277.3 v1.6" stroke="#000" stroke-width="0.55"/><path d="M598.88,277.3 v1.6" stroke="#000" stroke-width="0.55"/><path d="M604.31,277.3 v1.6" stroke="#000" stroke-width="0.55"/><path d="M608.75,277.3 v1.6" stroke="#000" stroke-width="0.55"/><path d="M612.51,277.3 v1.6" stroke="#000" stroke-width="0.55"/><path d="M615.76,277.3 v1.6" stroke="#000" stroke-width="0.55"/><path d="M618.63,277.3 v1.6" stroke="#000" stroke-width="0.55"/><path d="M621.20,277.3 v2.9" stroke="#000" stroke-width="0.75"/><path d="M342.3,277.26 h-2.9" stroke="#000" stroke-width="0.75"/><path d="M342.3,250.18 h-1.6" stroke="#000" stroke-width="0.55"/><path d="M342.3,234.33 h-1.6" stroke="#000" stroke-width="0.55"/><path d="M342.3,223.09 h-1.6" stroke="#000" stroke-width="0.55"/><path d="M342.3,214.37 h-1.6" stroke="#000" stroke-width="0.55"/><path d="M342.3,207.25 h-1.6" stroke="#000" stroke-width="0.55"/><path d="M342.3,201.23 h-1.6" stroke="#000" stroke-width="0.55"/><path d="M342.3,196.01 h-1.6" stroke="#000" stroke-width="0.55"/><path d="M342.3,191.41 h-1.6" stroke="#000" stroke-width="0.55"/><path d="M342.3,187.29 h-2.9" stroke="#000" stroke-width="0.75"/><path d="M342.3,160.21 h-1.6" stroke="#000" stroke-width="0.55"/><path d="M342.3,144.36 h-1.6" stroke="#000" stroke-width="0.55"/><path d="M342.3,133.12 h-1.6" stroke="#000" stroke-width="0.55"/><path d="M342.3,124.40 h-1.6" stroke="#000" stroke-width="0.55"/><path d="M342.3,117.28 h-1.6" stroke="#000" stroke-width="0.55"/><path d="M342.3,111.26 h-1.6" stroke="#000" stroke-width="0.55"/><path d="M342.3,106.04 h-1.6" stroke="#000" stroke-width="0.55"/><path d="M342.3,101.44 h-1.6" stroke="#000" stroke-width="0.55"/><path d="M342.3,97.32 h-2.9" stroke="#000" stroke-width="0.75"/><path d="M342.3,70.24 h-1.6" stroke="#000" stroke-width="0.55"/><path d="M342.3,54.39 h-1.6" stroke="#000" stroke-width="0.55"/><path d="M342.3,43.15 h-1.6" stroke="#000" stroke-width="0.55"/><path d="M342.3,34.43 h-1.6" stroke="#000" stroke-width="0.55"/><path d="M342.3,27.31 h-1.6" stroke="#000" stroke-width="0.55"/><path d="M342.3,21.29 h-1.6" stroke="#000" stroke-width="0.55"/><path d="M342.3,16.07 h-1.6" stroke="#000" stroke-width="0.55"/><path d="M342.3,11.47 h-1.6" stroke="#000" stroke-width="0.55"/><path d="M342.3,7.35 h-2.9" stroke="#000" stroke-width="0.75"/>
<rect x="342.3" y="0.4" width="278.90000000000003" height="276.90000000000003" fill="none" stroke="#000" stroke-width="0.8"/>
<text x="102.20" y="292.00" font-size="11.9" text-anchor="middle" stroke="#000" stroke-width="0.2">10<tspan font-size="7.7" dy="-3.63" dx="0.4">1</tspan></text>
<text x="396.30" y="292.00" font-size="11.9" text-anchor="middle" stroke="#000" stroke-width="0.2">10<tspan font-size="7.7" dy="-3.63" dx="0.4">1</tspan></text>
<text x="158.23" y="292.00" font-size="11.9" text-anchor="middle" stroke="#000" stroke-width="0.2">10<tspan font-size="7.7" dy="-3.63" dx="0.4">2</tspan></text>
<text x="452.40" y="292.00" font-size="11.9" text-anchor="middle" stroke="#000" stroke-width="0.2">10<tspan font-size="7.7" dy="-3.63" dx="0.4">2</tspan></text>
<text x="214.26" y="292.00" font-size="11.9" text-anchor="middle" stroke="#000" stroke-width="0.2">10<tspan font-size="7.7" dy="-3.63" dx="0.4">3</tspan></text>
<text x="508.50" y="292.00" font-size="11.9" text-anchor="middle" stroke="#000" stroke-width="0.2">10<tspan font-size="7.7" dy="-3.63" dx="0.4">3</tspan></text>
<text x="270.29" y="292.00" font-size="11.9" text-anchor="middle" stroke="#000" stroke-width="0.2">10<tspan font-size="7.7" dy="-3.63" dx="0.4">4</tspan></text>
<text x="564.60" y="292.00" font-size="11.9" text-anchor="middle" stroke="#000" stroke-width="0.2">10<tspan font-size="7.7" dy="-3.63" dx="0.4">4</tspan></text>
<text x="326.32" y="292.00" font-size="11.9" text-anchor="middle" stroke="#000" stroke-width="0.2">10<tspan font-size="7.7" dy="-3.63" dx="0.4">5</tspan></text>
<text x="620.70" y="292.00" font-size="11.9" text-anchor="middle" stroke="#000" stroke-width="0.2">10<tspan font-size="7.7" dy="-3.63" dx="0.4">5</tspan></text>
<text x="41.60" y="11.85" font-size="11.9" text-anchor="end" stroke="#000" stroke-width="0.2">10<tspan font-size="7.7" dy="-3.63" dx="0.4">2</tspan></text>
<text x="41.60" y="101.82" font-size="11.9" text-anchor="end" stroke="#000" stroke-width="0.2">10<tspan font-size="7.7" dy="-3.63" dx="0.4">1</tspan></text>
<text x="41.60" y="191.79" font-size="11.9" text-anchor="end" stroke="#000" stroke-width="0.2">10<tspan font-size="7.7" dy="-3.63" dx="0.4">0</tspan></text>
<text x="41.60" y="281.76" font-size="11.9" text-anchor="end" stroke="#000" stroke-width="0.2">10<tspan font-size="7.7" dy="-3.63" dx="0.4"><tspan font-size="7.2">−</tspan>1</tspan></text>
<text x="187.5" y="306.4" font-size="11.9" text-anchor="middle" stroke="#000" stroke-width="0.2">r (km)</text>
<text x="481.8" y="306.4" font-size="11.9" text-anchor="middle" stroke="#000" stroke-width="0.2">r (km)</text>
<text transform="translate(9.2,138.7) rotate(-90)" font-size="11.9" text-anchor="middle" stroke="#000" stroke-width="0.2">Relative reaction rate (%)</text>
<text x="56.6" y="261.6" font-size="13" stroke="#000" stroke-width="0.2">(a)</text>
<text x="351.0" y="261.6" font-size="13" stroke="#000" stroke-width="0.2">(b)</text>
</svg>
</body></html>
